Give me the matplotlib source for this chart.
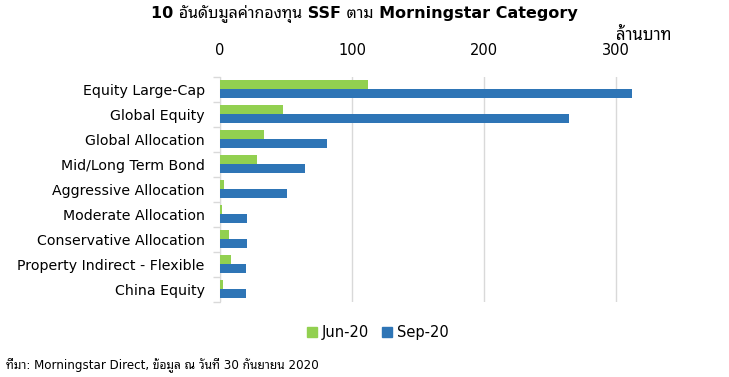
import matplotlib
matplotlib.use("Agg")
import matplotlib.pyplot as plt
from matplotlib.patches import Patch
import numpy as np

categories = ["Equity Large-Cap", "Global Equity", "Global Allocation",
              "Mid/Long Term Bond", "Aggressive Allocation", "Moderate Allocation",
              "Conservative Allocation", "Property Indirect - Flexible", "China Equity"]
jun20 = [112, 48, 33, 28, 3, 1.5, 7, 8.5, 2.5]
sep20 = [312, 264, 81, 64, 51, 20.5, 20.5, 19.7, 19.7]
xticks = [0, 100, 200, 300]

green = "#92D050"
blue = "#2E75B6"

# ภาษาไทยใช้ Noto Sans Thai Looped เป็น fallback
plt.rcParams['font.family'] = ["DejaVu Sans", "Noto Sans Thai Looped"]

fig = plt.figure(figsize=(7.29, 3.77), dpi=100)
ax = fig.add_axes([0.3018, 0.199, 0.5795, 0.5968])

y = np.arange(len(categories))
h = 0.36
ax.barh(y - h / 2, jun20, height=h, color=green, label="Jun-20", zorder=3)
ax.barh(y + h / 2, sep20, height=h, color=blue, label="Sep-20", zorder=3)

ax.set_xlim(0, 320)
ax.set_ylim(len(categories) - 0.5, -0.5)
ax.set_xticks(xticks)
ax.xaxis.tick_top()
ax.tick_params(axis='x', length=0, pad=14, labelsize=10.5, colors="#000000")
ax.set_yticks(np.arange(len(categories) + 1) - 0.5, minor=True)
ax.set_yticks(y)
ax.set_yticklabels(categories, fontsize=10.2)
ax.tick_params(axis='y', which='major', length=0, pad=11)
ax.tick_params(axis='y', which='minor', length=5, color="#D9D9D9", width=1)
ax.grid(axis='x', color="#D9D9D9", linewidth=1, zorder=0)
for s in ["top", "right", "bottom"]:
    ax.spines[s].set_visible(False)
ax.spines["left"].set_color("#D9D9D9")

fig.text(0.5, 0.962, "10 อันดับมูลค่ากองทุน SSF ตาม Morningstar Category",
         ha="center", va="center", fontsize=11.5, fontweight="bold")
fig.text(0.921, 0.907, "ล้านบาท", ha="right", va="center", fontsize=12)

handles = [Patch(color=green, label="Jun-20"), Patch(color=blue, label="Sep-20")]
fig.legend(handles=handles, loc="center", bbox_to_anchor=(0.518, 0.117), ncol=2,
           frameon=False, fontsize=10.5, handlelength=0.7, handleheight=0.7,
           handletextpad=0.3, columnspacing=0.9)

fig.text(0.008, 0.03, "ที่มา: Morningstar Direct, ข้อมูล ณ วันที่ 30 กันยายน 2020",
         ha="left", va="center", fontsize=8.6)

fig.savefig("out.png", dpi=100)
